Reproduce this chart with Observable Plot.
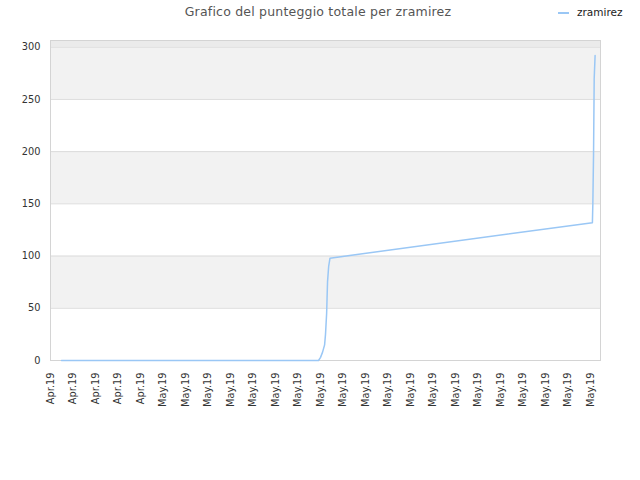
<!DOCTYPE html>
<html>
<head>
<meta charset="utf-8">
<script src="https://cdn.jsdelivr.net/npm/d3@7"></script>
<script src="https://cdn.jsdelivr.net/npm/@observablehq/plot@0.6"></script>
<style>
  body { margin: 0; background: #fff; font-family: "DejaVu Sans", sans-serif; }
  #wrap { width: 640px; position: relative; }
  #head { height: 30px; position: relative; }
  #title { position: absolute; left: 0; width: 636px; top: 4px; text-align: center; font-size: 12.5px; color: #555; letter-spacing: 0.2px; }
  #legend { position: absolute; left: 558px; top: 6px; font-size: 10.5px; color: #222; }
  #legend span.sw { display: inline-block; width: 11px; height: 2px; background: #9ac7f5; vertical-align: middle; margin-right: 8px; }
</style>
</head>
<body>
<div id="wrap">
  <div id="head">
    <div id="title">Grafico del punteggio totale per zramirez</div>
    <div id="legend"><span class="sw"></span>zramirez</div>
  </div>
  <div id="chart"></div>
</div>
<script>
// Tick labels (one per tick position index 0..24)
const tickLabels = ["Apr.19","Apr.19","Apr.19","Apr.19","Apr.19",
  "May.19","May.19","May.19","May.19","May.19","May.19","May.19","May.19","May.19","May.19",
  "May.19","May.19","May.19","May.19","May.19","May.19","May.19","May.19","May.19","May.19"];
// Series: position along the time axis (in tick units) and total score
const timePos = [0.49, 11.91, 12.0, 12.09, 12.18, 12.22, 12.27, 12.29, 12.31, 12.36, 12.42, 24.08, 24.1, 24.13, 24.16, 24.2];
const scores  = [0,    0,     3,    8,     15,    25,    45,    60,    75,    90,    98,    132,   150,  196,   270,   292];
// Alternating bands
const bandLow  = [50, 150, 250];
const bandHigh = [100, 200, 300];
const yTicks = [0, 50, 100, 150, 200, 250, 300];

const series = timePos.map((t, i) => ({t, v: scores[i]}));
const bands = bandLow.map((lo, i) => ({y1: lo, y2: bandHigh[i]}));
const ticks = tickLabels.map((_, i) => i);

const chart = Plot.plot({
  width: 640,
  height: 450,
  marginTop: 10,
  marginBottom: 120,
  marginLeft: 50,
  marginRight: 40,
  style: {fontFamily: "DejaVu Sans, sans-serif", fontSize: "9.8px", color: "#333", background: "#fff"},
  x: {domain: [0, 24.44], ticks: ticks, tickFormat: i => tickLabels[i], tickRotate: -90, tickSize: 0, tickPadding: 12, label: null},
  y: {domain: [0, 306.4], ticks: yTicks, tickSize: 0, tickPadding: 10, label: null},
  marks: [
    Plot.rect([{y1: 300, y2: 306.4}], {y1: "y1", y2: "y2", fill: "#ebebeb"}),
    Plot.rect(bands, {y1: "y1", y2: "y2", fill: "#f2f2f2"}),
    Plot.ruleY(yTicks.filter(d => d > 0), {stroke: "#dcdcdc", strokeWidth: 1}),
    Plot.frame({stroke: "#d4d4d4"}),
    Plot.line(series, {x: "t", y: "v", stroke: "#9ac7f5", strokeWidth: 1.5, curve: "linear"})
  ]
});
document.getElementById("chart").appendChild(chart);
</script>
</body>
</html>
